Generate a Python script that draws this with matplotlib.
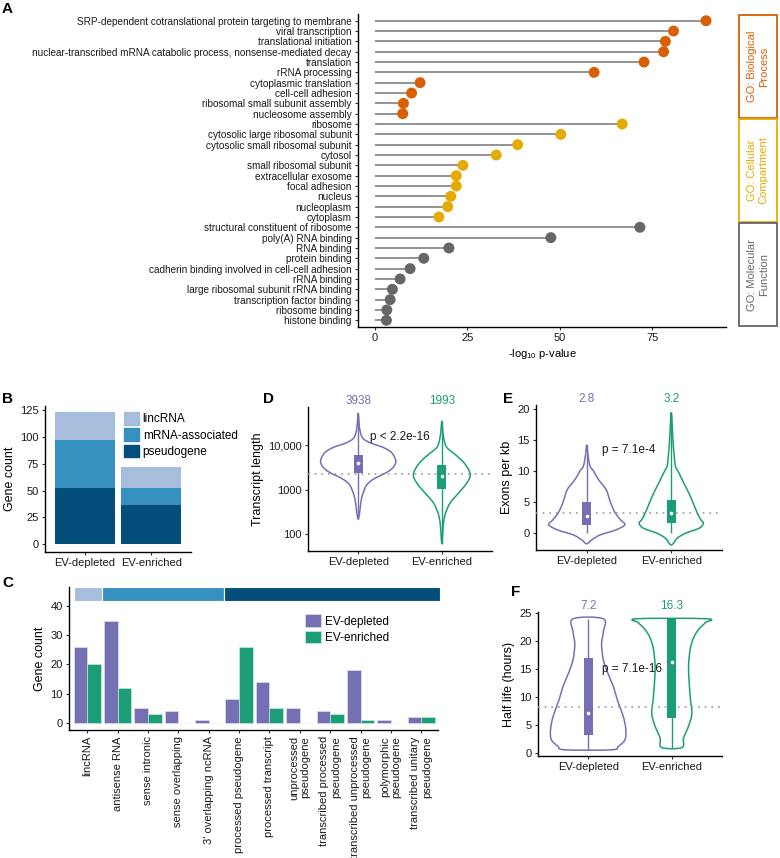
import numpy as np
import matplotlib
matplotlib.use("Agg")
import matplotlib.pyplot as plt
from matplotlib.path import Path
from matplotlib.patches import PathPatch, Rectangle, Patch
from matplotlib.transforms import blended_transform_factory

plt.rcParams['font.family'] = ['Liberation Sans', 'DejaVu Sans']
plt.rcParams['mathtext.fontset'] = 'custom'
plt.rcParams['mathtext.rm'] = 'Liberation Sans'
plt.rcParams['mathtext.default'] = 'regular'

# ---------------- data ----------------
go_terms = [
    "SRP-dependent cotranslational protein targeting to membrane",
    "viral transcription", "translational initiation",
    "nuclear-transcribed mRNA catabolic process, nonsense-mediated decay",
    "translation", "rRNA processing", "cytoplasmic translation",
    "cell-cell adhesion", "ribosomal small subunit assembly", "nucleosome assembly",
    "ribosome", "cytosolic large ribosomal subunit", "cytosolic small ribosomal subunit",
    "cytosol", "small ribosomal subunit", "extracellular exosome", "focal adhesion",
    "nucleus", "nucleoplasm", "cytoplasm",
    "structural constituent of ribosome", "poly(A) RNA binding", "RNA binding",
    "protein binding", "cadherin binding involved in cell-cell adhesion", "rRNA binding",
    "large ribosomal subunit rRNA binding", "transcription factor binding",
    "ribosome binding", "histone binding",
]
go_values = [89.6, 80.8, 78.6, 78.1, 72.8, 59.3, 12.2, 9.9, 7.7, 7.5,
             66.9, 50.3, 38.6, 32.8, 23.8, 22.0, 22.0, 20.5, 19.7, 17.3,
             71.7, 47.6, 20.0, 13.2, 9.5, 6.8, 4.7, 4.1, 3.2, 3.1]
go_category = ["BP"] * 10 + ["CC"] * 10 + ["MF"] * 10
go_cat_names = ["BP", "CC", "MF"]
go_cat_labels = ["GO: Biological\nProcess", "GO: Cellular\nCompartment", "GO: Molecular\nFunction"]

groups = ["EV-depleted", "EV-enriched"]
biotype_classes = ["lincRNA", "mRNA-associated", "pseudogene"]
b_lincRNA = [26, 20]
b_mrna = [45, 15]
b_pseudo = [52, 37]

c_categories = ["lincRNA", "antisense RNA", "sense intronic", "sense overlapping",
                "3' overlapping ncRNA", "processed pseudogene", "processed transcript",
                "unprocessed\npseudogene", "transcribed processed\npseudogene",
                "transcribed unprocessed\npseudogene", "polymorphic\npseudogene",
                "transcribed unitary\npseudogene"]
c_class = ["lincRNA"] + ["mRNA-associated"] * 4 + ["pseudogene"] * 7
c_depleted = [26, 35, 5, 4, 1, 8, 14, 5, 4, 18, 1, 2]
c_enriched = [20, 12, 3, 0, 0, 26, 5, 0, 3, 1, 0, 2]

# D: transcript length violins (log10 length, half-width)
d_dep_log = [2.33, 2.45, 2.6, 2.8, 2.95, 3.1, 3.22, 3.32, 3.42, 3.53, 3.64, 3.75, 3.85, 3.95, 4.05, 4.15, 4.3, 4.5, 4.73]
d_dep_hw = [0, 0.015, 0.025, 0.04, 0.065, 0.1, 0.17, 0.27, 0.37, 0.43, 0.45, 0.43, 0.39, 0.3, 0.15, 0.06, 0.025, 0.01, 0]
d_enr_log = [1.77, 2.0, 2.24, 2.47, 2.7, 2.92, 3.15, 3.34, 3.57, 3.76, 3.95, 4.14, 4.35, 4.55]
d_enr_hw = [0, 0.01, 0.02, 0.045, 0.1, 0.2, 0.3, 0.34, 0.28, 0.18, 0.06, 0.025, 0.01, 0]
d_q1 = [2400, 1050]
d_q3 = [6000, 3540]
d_median = [3938, 1993]
d_whisk_lo = [214, 59]
d_whisk_hi = [53700, 35500]
d_ref = 2290

# E: exons per kb
e_dep_y = [-1.7, -1.07, -0.27, 0.5, 1.35, 2.15, 3.2, 4.3, 5.4, 7.0, 8.6, 10.0, 10.75, 12.5, 14.2]
e_dep_hw = [0, 0.06, 0.16, 0.34, 0.45, 0.40, 0.34, 0.30, 0.27, 0.23, 0.14, 0.08, 0.04, 0.015, 0]
e_enr_y = [-1.9, -0.8, 0, 0.8, 1.6, 2.15, 3.2, 4.8, 6.4, 8.0, 9.7, 10.75, 12.4, 14.9, 19.4]
e_enr_hw = [0, 0.07, 0.17, 0.33, 0.38, 0.35, 0.31, 0.26, 0.21, 0.15, 0.09, 0.05, 0.035, 0.02, 0]
e_q1 = [1.3, 1.6]
e_q3 = [5.0, 5.4]
e_median = [2.8, 3.2]
e_whisk_lo = [0.0, 0.0]
e_whisk_hi = [14.1, 19.3]
e_ref = 3.2

# F: half life
f_dep_y = [0.6, 1.2, 2.4, 4.2, 6.5, 9.4, 11.9, 14.4, 16.7, 19.4, 21.5, 23.9]
f_dep_hw = [0.28, 0.36, 0.44, 0.45, 0.42, 0.35, 0.30, 0.23, 0.18, 0.16, 0.18, 0.18]
f_enr_y = [1.0, 2.7, 4.8, 7.1, 10.0, 15.0, 18.5, 20.5, 22.0, 23.2, 23.9]
f_enr_hw = [0.12, 0.14, 0.2, 0.24, 0.22, 0.2, 0.22, 0.26, 0.32, 0.40, 0.42]
f_q1 = [3.3, 6.2]
f_q3 = [17.0, 23.9]
f_median = [7.2, 16.3]
f_whisk_lo = [0.6, 1.0]
f_whisk_hi = [23.9, 23.9]
f_ref = 8.2

# ---------------- styles ----------------
GO_COL = {"BP": "#D95F02", "CC": "#E6AB02", "MF": "#666666"}
PURPLE = "#7570B3"
GREEN = "#1B9E77"
GRP_COL = [PURPLE, GREEN]
CLASS_COL = {"lincRNA": "#A6BDDB", "mRNA-associated": "#3690C0", "pseudogene": "#034E7B"}
TXT = "#1a1a1a"
FS = 8

W, H = 780, 858
fig = plt.figure(figsize=(W / 100, H / 100), dpi=100)


def px_axes(l, t, r, b):
    return fig.add_axes([l / W, 1 - b / H, (r - l) / W, (b - t) / H])


def classic(ax):
    for s in ("top", "right"):
        ax.spines[s].set_visible(False)
    for s in ("left", "bottom"):
        ax.spines[s].set_linewidth(1.0)
        ax.spines[s].set_color("black")
    ax.tick_params(axis="both", length=2.5, width=0.8, pad=2, labelsize=FS,
                   colors="#333333", labelcolor=TXT)


def panel_label(x, y, s):
    fig.text(x / W, 1 - y / H, s, fontsize=11, fontweight="bold", va="top", ha="left")


def violin_path(pos, ys, hws, logy=False):
    right = [(pos + h, y) for y, h in zip(ys, hws)]
    left = [(pos - h, y) for y, h in zip(ys, hws)][::-1]
    if hws[-1] == 0:
        left = left[1:]
    if hws[0] == 0:
        left = left[:-1]
    P = np.array(right + left, dtype=float)
    n = len(P)
    verts = [P[0]]
    codes = [Path.MOVETO]
    for i in range(n):
        p0, p1, p2, p3 = P[i - 1], P[i], P[(i + 1) % n], P[(i + 2) % n]
        verts += [p1 + (p2 - p0) / 6, p2 - (p3 - p1) / 6, p2]
        codes += [Path.CURVE4] * 3
    verts = np.array(verts)
    if logy:
        verts[:, 1] = 10 ** verts[:, 1]
    return Path(verts, codes)


def violin_panel(ax, profiles, q1, q3, med, wlo, whi, ref, logy=False, fmt="{}"):
    pos = [1, 2]
    ax.axhline(ref, color="#9a9a9a", lw=1.2, ls=(0, (1, 3)), zorder=3.5)
    for i, (ys, hws) in enumerate(profiles):
        col = GRP_COL[i]
        ax.add_patch(PathPatch(violin_path(pos[i], ys, hws, logy), facecolor="none",
                               edgecolor=col, lw=1.1, zorder=2))
        ax.vlines(pos[i], wlo[i], whi[i], color=col, lw=1.0, zorder=3)
        ax.add_patch(Rectangle((pos[i] - 0.055, q1[i]), 0.11, q3[i] - q1[i],
                               facecolor=col, edgecolor="none", zorder=4))
        ax.plot(pos[i], med[i], "o", ms=2.6, color="white", mec="none", zorder=5)
        ax.text(pos[i], 1.0, fmt.format(med[i]), transform=blended_transform_factory(ax.transData, ax.transAxes),
                ha="center", va="bottom", color=col, fontsize=FS + 0.5, clip_on=False)
    ax.set_xlim(0.4, 2.6)
    ax.set_xticks(pos)
    ax.set_xticklabels(groups)
    classic(ax)


# ---------------- Panel A ----------------
axA = px_axes(358, 14, 726, 327)
ypos = np.arange(len(go_terms))
colsA = [GO_COL[c] for c in go_category]
axA.hlines(ypos, 0, go_values, color="#8a8a8a", lw=1.3, zorder=2)
axA.scatter(go_values, ypos, s=62, c=colsA, zorder=3, linewidths=0)
axA.set_ylim(len(go_terms) - 0.35, -0.65)
axA.set_xlim(-4.6, 95)
axA.set_yticks(ypos)
axA.set_yticklabels(go_terms)
axA.set_xticks([0, 25, 50, 75])
axA.set_xlabel("-log$_{10}$ p-value", fontsize=FS, labelpad=3)
classic(axA)
axA.tick_params(axis="y", labelsize=7.2)
tr = blended_transform_factory(axA.transAxes, axA.transData)
for k, cat in enumerate(go_cat_names):
    idx = [i for i, c in enumerate(go_category) if c == cat]
    top = min(idx) - 0.5 if k > 0 else -0.65
    bot = max(idx) + 0.5 if k < 2 else len(go_terms) - 0.35
    axA.add_patch(Rectangle((1.035, top + 0.05), 0.104, bot - top - 0.1, transform=tr,
                            facecolor="white", edgecolor=GO_COL[cat], lw=1.3, clip_on=False))
    axA.text(1.087, (top + bot) / 2, go_cat_labels[k], transform=tr, rotation=90,
             ha="center", va="center", multialignment="center", color=GO_COL[cat], fontsize=FS)
panel_label(2, 2, "A")

# ---------------- Panel B ----------------
axB = px_axes(45, 406, 191, 552)
xb = np.arange(1, 3)
axB.bar(xb, b_pseudo, 0.9, color=CLASS_COL["pseudogene"])
axB.bar(xb, b_mrna, 0.9, bottom=b_pseudo, color=CLASS_COL["mRNA-associated"])
axB.bar(xb, b_lincRNA, 0.9, bottom=np.add(b_pseudo, b_mrna), color=CLASS_COL["lincRNA"])
axB.set_xlim(0.4, 2.6)
axB.set_ylim(-7.2, 128.8)
axB.set_yticks([0, 25, 50, 75, 100, 125])
axB.set_xticks(xb)
axB.set_xticklabels(groups)
axB.set_ylabel("Gene count", fontsize=FS + 1, labelpad=3)
classic(axB)
axB.legend(handles=[Patch(color=CLASS_COL[c], label=c) for c in biotype_classes],
           loc="upper left", bbox_to_anchor=(0.54, 0.96), frameon=False, fontsize=FS + 0.5,
           handlelength=1.3, handleheight=1.3, handletextpad=0.3, labelspacing=0.25,
           borderpad=0, borderaxespad=0)
panel_label(2, 392, "B")

# ---------------- Panel C ----------------
axC = px_axes(69, 587, 438, 730)
xc = np.arange(1, len(c_categories) + 1)
axC.bar(xc - 0.225, c_depleted, 0.45, color=PURPLE, edgecolor="#e6e6f0", lw=0.4, label="EV-depleted")
axC.bar(xc + 0.225, c_enriched, 0.45, color=GREEN, edgecolor="#d8efe8", lw=0.4, label="EV-enriched")
for cls in biotype_classes:
    idx = [x for x, c in zip(xc, c_class) if c == cls]
    lo = max(min(idx) - 0.5, 0.55)
    hi = max(idx) + 0.5 if cls != "pseudogene" else max(idx) + 0.62
    axC.add_patch(Rectangle((lo, 41.6), hi - lo, 4.8, facecolor=CLASS_COL[cls],
                            edgecolor="white", lw=0.8, clip_on=False))
axC.set_xlim(0.4, 12.55)
axC.set_ylim(-2.5, 46.5)
axC.set_yticks([0, 10, 20, 30, 40])
axC.set_xticks(xc)
axC.set_xticklabels(c_categories, rotation=90, ha="center", va="top", multialignment="right")
axC.set_ylabel("Gene count", fontsize=FS + 1, labelpad=3)
classic(axC)
axC.legend(loc="upper left", bbox_to_anchor=(0.64, 0.81), frameon=False, fontsize=FS + 0.5,
           handlelength=1.3, handleheight=1.3, handletextpad=0.4, labelspacing=0.25,
           borderpad=0, borderaxespad=0)
panel_label(2, 576, "C")

# ---------------- Panel D ----------------
axD = px_axes(308, 407, 492, 551)
axD.set_yscale("log")
violin_panel(axD, [(d_dep_log, d_dep_hw), (d_enr_log, d_enr_hw)], d_q1, d_q3, d_median,
             d_whisk_lo, d_whisk_hi, d_ref, logy=True, fmt="{}")
axD.set_ylim(41, 73000)
axD.set_yticks([100, 1000, 10000])
axD.set_yticklabels(["100", "1000", "10,000"])
axD.minorticks_off()
axD.set_ylabel("Transcript length", fontsize=FS + 1, labelpad=3)
axD.text(1.5, 0.79, "p < 2.2e-16", transform=blended_transform_factory(axD.transData, axD.transAxes),
         ha="center", va="center", fontsize=FS + 0.5, color=TXT)
panel_label(263, 392, "D")

# ---------------- Panel E ----------------
axE = px_axes(536, 405, 722, 550)
violin_panel(axE, [(e_dep_y, e_dep_hw), (e_enr_y, e_enr_hw)], e_q1, e_q3, e_median,
             e_whisk_lo, e_whisk_hi, e_ref, fmt="{:.1f}")
axE.set_ylim(-2.7, 20.6)
axE.set_yticks([0, 5, 10, 15, 20])
axE.set_ylabel("Exons per kb", fontsize=FS + 1, labelpad=3)
axE.text(1.5, 13.3, "p = 7.1e-4", ha="center", va="center", fontsize=FS + 0.5, color=TXT)
panel_label(503, 392, "E")

# ---------------- Panel F ----------------
axF = px_axes(538, 612, 722, 756)
violin_panel(axF, [(f_dep_y, f_dep_hw), (f_enr_y, f_enr_hw)], f_q1, f_q3, f_median,
             f_whisk_lo, f_whisk_hi, f_ref, fmt="{:.1f}")
axF.set_ylim(-0.5, 25.1)
axF.set_yticks([0, 5, 10, 15, 20, 25])
axF.set_ylabel("Half life (hours)", fontsize=FS + 1, labelpad=3)
axF.text(1.17, 15.0, "p = 7.1e-16", ha="left", va="center", fontsize=FS + 0.5, color=TXT)
panel_label(511, 585, "F")

fig.savefig("out.png", dpi=100)
